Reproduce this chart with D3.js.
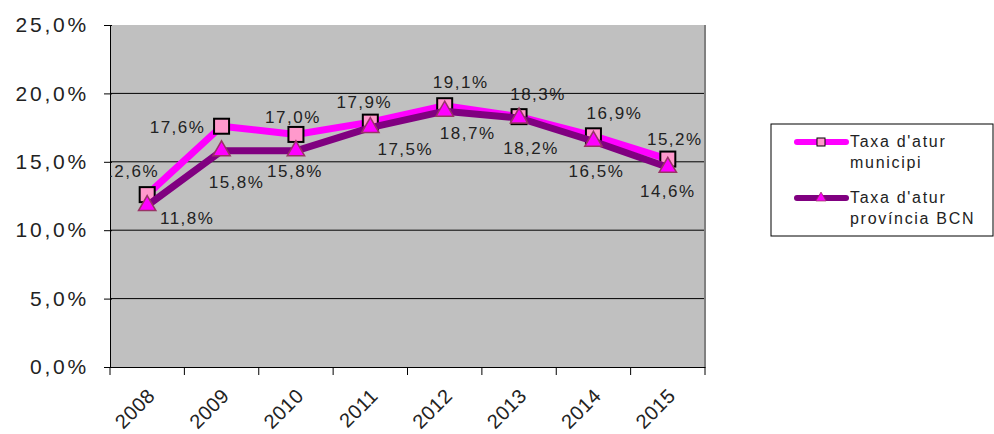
<!DOCTYPE html>
<html>
<head>
<meta charset="utf-8">
<script src="https://cdn.jsdelivr.net/npm/d3@7"></script>
<style>
  html, body { margin: 0; padding: 0; background: #fff; }
  svg { display: block; font-family: "Liberation Sans", Arial, sans-serif; }
</style>
</head>
<body>
<svg id="chart" width="994" height="434"></svg>
<script>
// ---- data ----
const years = ["2008", "2009", "2010", "2011", "2012", "2013", "2014", "2015"];
const municipi = [12.6, 17.6, 17.0, 17.9, 19.1, 18.3, 16.9, 15.2];
const provincia = [11.8, 15.8, 15.8, 17.5, 18.7, 18.2, 16.5, 14.6];
const seriesNames = ["Taxa d'atur municipi", "Taxa d'atur província BCN"];
const yTicks = [0, 5, 10, 15, 20, 25];

// ---- layout (label offsets relative to points, in px) ----
const munLabelOffset = [[-16, -23], [-44, 1], [-3, -17], [-6, -20], [16, -23], [19, -22], [21, -22], [7, -20]];
const provLabelOffset = [[40, 13], [15, 32], [-1, 21], [35, 22], [23, 22], [12, 30], [3, 30], [0, 24]];

const svg = d3.select("#chart");
const plot = { left: 110, top: 25, right: 705, bottom: 367 };

const x = d3.scaleBand().domain(years).range([plot.left, plot.right]).padding(0);
const y = d3.scaleLinear().domain([0, 25]).range([plot.bottom, plot.top]);
const fmt = v => d3.format(".1f")(v).replace(".", ",") + "%";

// plot background
svg.append("rect")
  .attr("x", plot.left).attr("y", plot.top)
  .attr("width", plot.right - plot.left).attr("height", plot.bottom - plot.top)
  .attr("fill", "#c0c0c0");

// gridlines
svg.append("g").selectAll("line").data(yTicks.filter(t => t > 0 && t < 25)).join("line")
  .attr("x1", plot.left).attr("x2", plot.right)
  .attr("y1", d => y(d)).attr("y2", d => y(d))
  .attr("stroke", "#000").attr("stroke-width", 1);

// right border
svg.append("line").attr("x1", plot.right).attr("x2", plot.right)
  .attr("y1", plot.top).attr("y2", plot.bottom)
  .attr("stroke", "#808080").attr("stroke-width", 2);

// y axis
const yAxis = d3.axisLeft(y).tickValues(yTicks).tickSize(6).tickPadding(18).tickFormat(fmt);
const gy = svg.append("g").attr("transform", `translate(${plot.left},0)`).call(yAxis);
gy.select(".domain").attr("stroke", "#000");
gy.selectAll(".tick line").attr("stroke", "#000").attr("x2", -6).attr("x1", 2);
gy.selectAll(".tick text").attr("font-size", 21).attr("fill", "#222")
  .attr("letter-spacing", 2.8).attr("x", -21)
  .attr("font-family", "Liberation Sans, Arial, sans-serif");

// x axis
const xAxis = d3.axisBottom(x).tickSize(0).tickFormat(d => d);
const gx = svg.append("g").attr("transform", `translate(0,${plot.bottom})`).call(xAxis);
gx.select(".domain").attr("stroke", "#000");
gx.selectAll(".tick text")
  .attr("font-size", 20).attr("fill", "#222")
  .attr("font-family", "Liberation Sans, Arial, sans-serif")
  .attr("text-anchor", "end").attr("letter-spacing", 0.5)
  .attr("y", 0).attr("dy", 0)
  .attr("transform", "translate(9,30) rotate(-45)");
// boundary ticks
const bounds = years.map(d => x(d)).concat([x(years[years.length - 1]) + x.bandwidth()]);
svg.append("g").selectAll("line").data(bounds).join("line")
  .attr("x1", d => d).attr("x2", d => d)
  .attr("y1", plot.bottom).attr("y2", plot.bottom + 8)
  .attr("stroke", "#000");

const cx = d => x(d) + x.bandwidth() / 2;

// clip for labels
svg.append("clipPath").attr("id", "plotclip").append("rect")
  .attr("x", plot.left).attr("y", 0).attr("width", 994 - plot.left).attr("height", 434);

const line = d3.line().x(d => cx(d.year)).y(d => y(d.v));
const munData = years.map((yr, i) => ({ year: yr, v: municipi[i] }));
const provData = years.map((yr, i) => ({ year: yr, v: provincia[i] }));

// series 1
svg.append("path").datum(munData).attr("d", line)
  .attr("fill", "none").attr("stroke", "#ff00ff").attr("stroke-width", 7)
  .attr("stroke-linejoin", "round");
const sq = 15;
svg.append("g").selectAll("rect").data(munData).join("rect")
  .attr("x", d => cx(d.year) - sq / 2).attr("y", d => y(d.v) - sq / 2)
  .attr("width", sq).attr("height", sq)
  .attr("fill", "#ff99cc").attr("stroke", "#000").attr("stroke-width", 2);

// series 2
svg.append("path").datum(provData).attr("d", line)
  .attr("fill", "none").attr("stroke", "#800080").attr("stroke-width", 7)
  .attr("stroke-linejoin", "round");
const tri = d3.symbol().type(d3.symbolTriangle).size(130);
svg.append("g").selectAll("path").data(provData).join("path")
  .attr("d", tri)
  .attr("transform", d => `translate(${cx(d.year)},${y(d.v)})`)
  .attr("fill", "#ff00ff").attr("stroke", "#993366").attr("stroke-width", 1.5);

// data labels
const labels = svg.append("g").attr("clip-path", "url(#plotclip)")
  .attr("font-size", 17).attr("fill", "#222").attr("letter-spacing", 1.5);
labels.selectAll("text.m").data(munData).join("text").attr("class", "m")
  .attr("x", (d, i) => cx(d.year) + munLabelOffset[i][0])
  .attr("y", (d, i) => y(d.v) + munLabelOffset[i][1])
  .attr("text-anchor", "middle").attr("dominant-baseline", "central")
  .text(d => fmt(d.v));
labels.selectAll("text.p").data(provData).join("text").attr("class", "p")
  .attr("x", (d, i) => cx(d.year) + provLabelOffset[i][0])
  .attr("y", (d, i) => y(d.v) + provLabelOffset[i][1])
  .attr("text-anchor", "middle").attr("dominant-baseline", "central")
  .text(d => fmt(d.v));

// legend
const lg = svg.append("g");
lg.append("rect").attr("x", 771).attr("y", 124).attr("width", 222).attr("height", 112)
  .attr("fill", "#fff").attr("stroke", "#000").attr("stroke-width", 1);
const legendItems = [
  { name: seriesNames[0], lines: ["Taxa d'atur", "municipi"], color: "#ff00ff", marker: "square" },
  { name: seriesNames[1], lines: ["Taxa d'atur", "província BCN"], color: "#800080", marker: "triangle" }
];
legendItems.forEach((it, i) => {
  const ly = 142 + i * 56;
  lg.append("line").attr("x1", 797).attr("x2", 846).attr("y1", ly).attr("y2", ly)
    .attr("stroke", it.color).attr("stroke-width", 6).attr("stroke-linecap", "round");
  if (it.marker === "square") {
    lg.append("rect").attr("x", 817).attr("y", ly - 4).attr("width", 8).attr("height", 8)
      .attr("fill", "#ff99cc").attr("stroke", "#000").attr("stroke-width", 1);
  } else {
    lg.append("path").attr("d", d3.symbol().type(d3.symbolTriangle).size(45))
      .attr("transform", `translate(821,${ly})`)
      .attr("fill", "#ff00ff").attr("stroke", "#993366").attr("stroke-width", 0.8);
  }
  const t = lg.append("text").attr("x", 850).attr("y", ly + 4.5)
    .attr("font-size", 16).attr("letter-spacing", 1.7).attr("fill", "#222");
  it.lines.forEach((s, j) => t.append("tspan").attr("x", 850).attr("dy", j === 0 ? 0 : 21).text(s));
});
</script>
</body>
</html>
